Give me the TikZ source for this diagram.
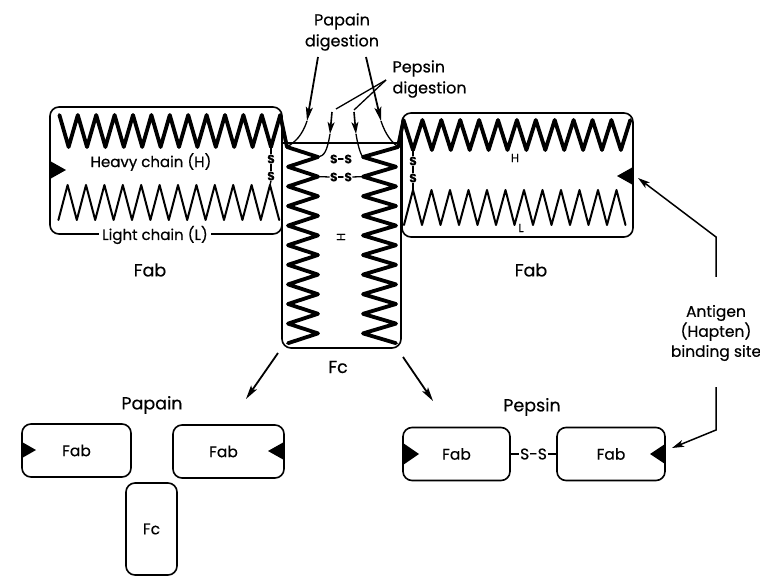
\documentclass[tikz,border=0pt]{standalone}
\usepackage{fontspec}
\setmainfont{Poppins}[FakeBold=0.4]
\usetikzlibrary{arrows.meta}
\begin{document}
\begin{tikzpicture}[x=1pt,y=-1pt,
  outline/.style={line width=1.6pt},
  fabframe/.style={outline, rounded corners=9pt},
  sbox/.style={draw, outline, rounded corners=9pt, inner sep=0pt, font=\fontsize{15.5}{15.5}\selectfont},
  heavy/.style={line width=3.8pt, line join=round, line cap=round},
  light/.style={line width=2pt, line join=round, line cap=round},
  thin/.style={line width=1.3pt},
  digarrow/.style={line width=1.8pt, -{Stealth[length=14pt,width=7pt,inset=3pt]}},
  shortarrow/.style={line width=1.6pt, -{Stealth[length=12pt,width=7pt,inset=3pt]}},
  bigtxt/.style={font=\fontsize{17.5}{17.5}\selectfont},
  midtxt/.style={font=\fontsize{15}{15}\selectfont},
  stxt/.style={font=\fontsize{12}{12}\selectfont\bfseries, inner sep=0.3pt},
  ltxt/.style={font=\fontsize{11.5}{11.5}\selectfont, inner sep=0.5pt},
  wedge/.style={fill=black}
]
\useasboundingbox[fill=white] (0,0) rectangle (760,577);

% ---------- frames of the intact molecule ----------
\draw[fabframe] (50,107) rectangle (282,234);
\draw[fabframe] (402,113) rectangle (633,237);
\draw[outline, rounded corners=9pt] (282,143) -- (282,348) -- (401,348) -- (401,143);
\draw[outline] (282,143) -- (401,143);

% antigen-binding sites of the two Fab arms
\fill[wedge] (50,161) -- (66,170) -- (50,179) -- cycle;
\fill[wedge] (633,167) -- (617,176) -- (633,185) -- cycle;

% hinge points
\coordinate (hL) at (287,147);
\coordinate (hR) at (398,147);

% ---------- chains ----------
% left Fab: heavy and light chain
\draw[heavy] (59.4,115) \foreach \i in {0,...,11} { -- ({68.6+18.4*\i},147) -- ({77.8+18.4*\i},115) } -- (hL);
\draw[light] (58.4,220) \foreach \i in {0,...,11} { -- ({67.6+18.4*\i},185) -- ({76.8+18.4*\i},220) };
% right Fab: heavy and light chain
\draw[heavy] (hR) -- (403.5,120) \foreach \i in {0,...,11} { -- ({413+18.9*\i},150) -- ({422.4+18.9*\i},120) };
\draw[light] (404,225) \foreach \i in {0,...,11} { -- ({413+18.5*\i},190) -- ({422+18.5*\i},225) };
% Fc: the two heavy chains
\draw[heavy] (hL) \foreach \i in {0,...,9} { -- (318,{157+19.6*\i}) -- (288,{166.8+19.6*\i}) };
\draw[heavy] (hR) \foreach \i in {0,...,9} { -- (363,{157+19.6*\i}) -- (396,{166.8+19.6*\i}) };

% ---------- disulfide bridges ----------
\node[stxt] (sl1) at (271,159) {S};
\node[stxt] (sl2) at (271,176) {S};
\draw[thin] (271,147) -- (sl1.north);
\draw[thin] (sl1.south) -- (sl2.north);
\draw[thin] (sl2.south) -- (270,185);

\node[stxt] (sr1) at (413,161) {S};
\node[stxt] (sr2) at (413,178) {S};
\draw[thin] (413,150) -- (sr1.north);
\draw[thin] (sr1.south) -- (sr2.north);
\draw[thin] (sr2.south) -- (413,190);

\node[stxt] (ssa) at (341,159) {S-S};
\node[stxt] (ssb) at (341,177) {S-S};
\draw[thin] (318,176.6) -- (ssb.west);
\draw[thin] (ssb.east) -- (363,176.6);

% ---------- chain labels ----------
\node[midtxt] (hclbl) at (151,162) {Heavy chain (H)};
\node[midtxt, fill=white, inner xsep=3pt, inner ysep=0pt] (lclbl) at (155,235) {Light chain (L)};
\node[ltxt] (hrlbl) at (515,158) {H};
\node[ltxt] (lrlbl) at (521,228) {L};
\node[ltxt, rotate=90] (hfclbl) at (341,237) {H};

\node[bigtxt] (fabl) at (150,270) {Fab};
\node[bigtxt] (fabr) at (531,270) {Fab};
\node[bigtxt] (fcl) at (338,367) {Fc};

% ---------- digestion sites ----------
\node[font=\fontsize{16}{21}\selectfont, align=center] (papainlbl) at (342,32) {Papain\\digestion};
\node[font=\fontsize{16}{21}\selectfont, align=left, anchor=west] (pepsinlbl) at (389,79) {Pepsin\\digestion};

\coordinate (pa1) at (318,57);
\coordinate (pa1t) at (307,121);
\coordinate (pa2) at (366,57);
\coordinate (pa2t) at (381,121);
\draw[digarrow] (pa1) -- (pa1t);
\draw[digarrow] (pa2) -- (pa2t);
\draw[thin] (pa1t) .. controls (302,136) and (295,142) .. (hL);
\draw[thin] (pa2t) .. controls (386,136) and (392,142) .. (hR);

\coordinate (pj) at (386,80);
\coordinate (pe1) at (336,109);
\coordinate (pe2) at (354,110);
\draw[thin] (pj) -- (pe1);
\draw[thin] (pj) -- (pe2);
\coordinate (pe1s) at (332,112);
\coordinate (pe1t) at (330,134);
\coordinate (pe2s) at (354,112);
\coordinate (pe2t) at (356,134);
\draw[shortarrow] (pe1s) -- (pe1t);
\draw[shortarrow] (pe2s) -- (pe2t);
\draw[thin] (pe1t) .. controls (327,152) and (324,156) .. (318,157);
\draw[thin] (pe2t) .. controls (359,152) and (362,156) .. (363,157);

% ---------- fragments ----------
\coordinate (fcbl) at (278,353);
\coordinate (fcbr) at (403,357);
\coordinate (papaintip) at (246,399);
\coordinate (pepsintip) at (433,401);
\draw[digarrow] (fcbl) -- (papaintip);
\draw[digarrow] (fcbr) -- (pepsintip);

\node[bigtxt] (papainfr) at (152,405) {Papain};
\node[bigtxt] (pepsinfr) at (532,407) {Pepsin};

% papain products
\node[sbox, minimum width=109pt, minimum height=53pt] (pfab1) at (76.5,450.5) {Fab};
\node[sbox, minimum width=111pt, minimum height=53pt] (pfab2) at (228.5,451.5) {Fab\hspace*{10pt}};
\node[sbox, minimum width=51pt, minimum height=92pt] (pfc) at (151.5,529) {Fc};
\fill[wedge] (22,442) -- (36,450) -- (22,458) -- cycle;
\fill[wedge] (284,442) -- (268,451) -- (284,460) -- cycle;

% pepsin products
\node[sbox, minimum width=107pt, minimum height=53pt] (qfab1) at (456.5,454) {Fab};
\node[sbox, minimum width=108pt, minimum height=53pt] (qfab2) at (611,454) {Fab};
\draw[outline] (qfab1.east) -- (qfab2.west) node[midway, fill=white, inner xsep=1pt, inner ysep=0pt, font=\fontsize{15.5}{15.5}\selectfont] (ssq) {S-S};
\fill[wedge] (403,443) -- (419,454) -- (403,465) -- cycle;
\fill[wedge] (665,444) -- (650,454) -- (665,464) -- cycle;

% ---------- antigen binding site ----------
\node[font=\fontsize{15.5}{20}\selectfont, align=center] (antigen) at (716,333) {Antigen\\(Hapten)\\binding site};
\coordinate (ag1) at (716,277);
\coordinate (ag2) at (716,237);
\coordinate (ag3) at (638,178);
\coordinate (ag4) at (716,387);
\coordinate (ag5) at (716,430);
\coordinate (ag6) at (672,448);
\draw[shortarrow, line width=1.5pt] (ag1) -- (ag2) -- (ag3);
\draw[shortarrow, line width=1.5pt] (ag4) -- (ag5) -- (ag6);
\end{tikzpicture}
\end{document}
